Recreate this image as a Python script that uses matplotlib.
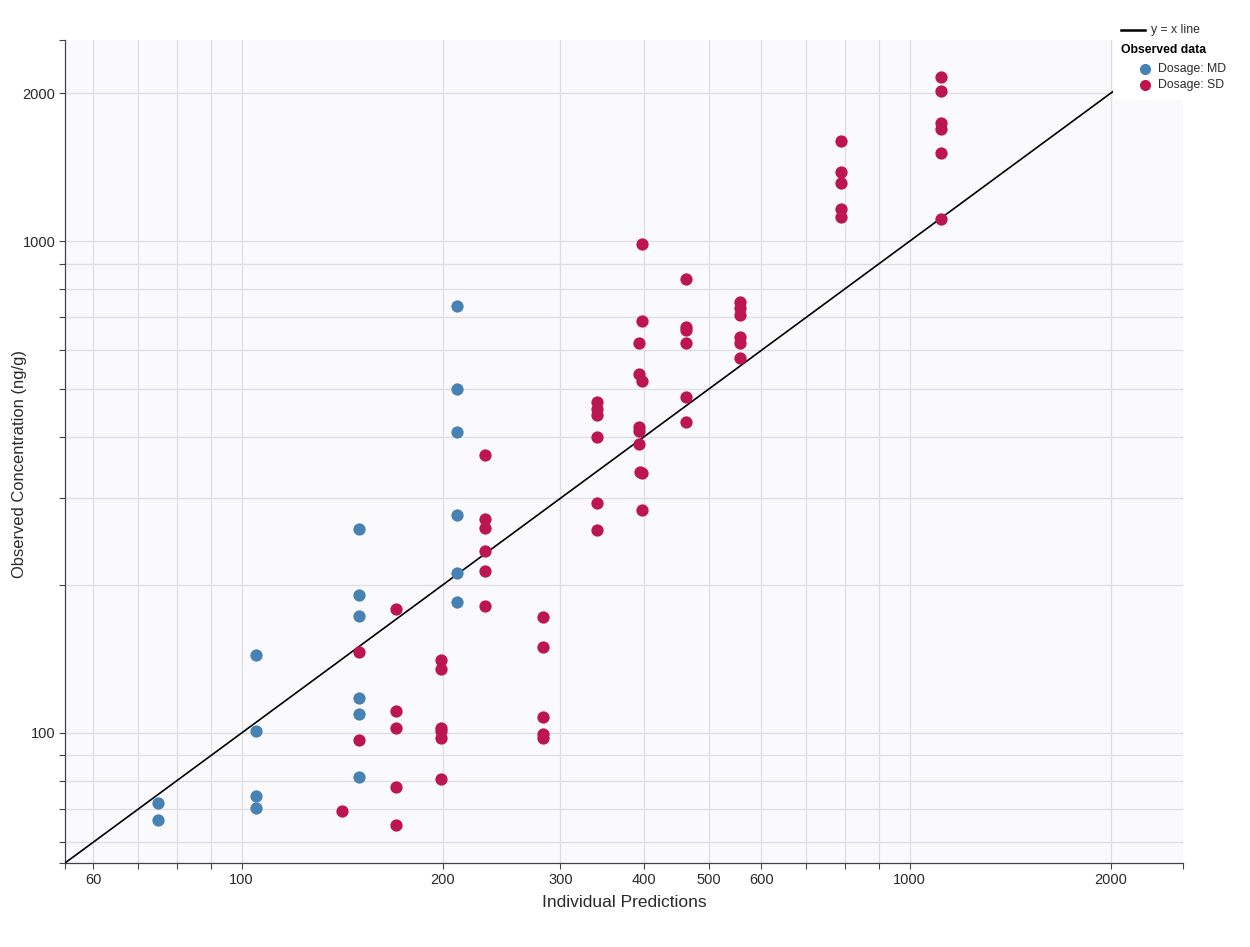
import matplotlib
matplotlib.use("Agg")
import matplotlib.pyplot as plt
import numpy as np
from matplotlib.ticker import FixedLocator, FixedFormatter
from matplotlib.lines import Line2D
from matplotlib.patches import Rectangle

plt.rcParams['font.family'] = ['Liberation Sans', 'DejaVu Sans']

# observed vs individual predictions, multiple dose (MD)
md_pred = [75, 75, 105, 105, 105, 105,
           150, 150, 150, 150, 150, 150,
           210, 210, 210, 210, 210, 210]
md_obs = [72.1, 66.5, 144.1, 100.9, 74.5, 70.4,
          260.2, 191.0, 172.9, 117.8, 109.1, 81.4,
          738.8, 501.0, 408.5, 277.0, 211.8, 184.6]

# single dose (SD)
sd_pred = [141.5,
           150, 150,
           170, 170, 170, 170, 170,
           198.6, 198.6, 198.6, 198.6, 198.6, 198.6,
           231, 231, 231, 231, 231, 231,
           283, 283, 283, 283, 283,
           340, 340, 340, 340, 340, 340,
           398, 398, 393, 393, 398, 393, 393, 393, 395, 398, 398,
           462, 462, 462, 462, 462, 462,
           556.6, 556.6, 556.6, 556.6, 556.6, 556.6,
           788, 788, 788, 788, 788,
           1114, 1114, 1114, 1114, 1114, 1114]
sd_obs = [69.4,
          145.9, 96.8,
          178.7, 110.7, 102.5, 77.8, 64.9,
          140.7, 134.9, 102.5, 100.9, 97.8, 80.5,
          367.3, 272.7, 261.0, 234.7, 213.2, 181.4,
          172.3, 149.6, 107.8, 99.4, 97.8,
          470.8, 456.2, 443.1, 400.2, 293.0, 258.9,
          987.4, 686.8, 621.4, 536.0, 519.4, 418.8, 411.6, 386.8, 338.8, 337.2, 283.5,
          836.0, 668, 660, 619.6, 481.3, 429.4,
          750.6, 729.9, 708.4, 639.0, 621.4, 577.5,
          1597, 1381, 1314, 1160, 1121,
          2154, 2018, 1735, 1692, 1514, 1107]

grid_ticks = [60, 70, 80, 90, 100, 200, 300, 400, 500, 600, 700, 800, 900, 1000, 2000]
x_labeled = [60, 100, 200, 300, 400, 500, 600, 1000, 2000]
y_labeled = [100, 1000, 2000]
lim = (54.4, 2565)

blue = '#4682b4'
red = '#bd1550'
axis_col = '#444444'
txt_col = '#2a2a2a'

fig = plt.figure(figsize=(12.5, 9.47), dpi=100)
ax = fig.add_axes([0.052, 0.0887, 0.8944, 0.8691])
ax.set_facecolor('#fafafd')
ax.set_xscale('log')
ax.set_yscale('log')
ax.set_xlim(*lim)
ax.set_ylim(*lim)

ax.plot(lim, lim, color='black', lw=1.2, zorder=3)
ax.scatter(md_pred, md_obs, s=78, color=blue, linewidths=0, zorder=4)
ax.scatter(sd_pred, sd_obs, s=78, color=red, linewidths=0, zorder=4)

for axis, labeled in ((ax.xaxis, x_labeled), (ax.yaxis, y_labeled)):
    axis.set_major_locator(FixedLocator(grid_ticks))
    axis.set_major_formatter(FixedFormatter([str(t) if t in labeled else '' for t in grid_ticks]))
    axis.set_minor_locator(FixedLocator(list(lim)))
    axis.set_minor_formatter(FixedFormatter(['', '']))

ax.tick_params(which='both', direction='out', length=4, width=0.8, color=axis_col,
               labelsize=10.5, labelcolor=txt_col, pad=3)
ax.grid(which='major', color='#dedee0', lw=0.9)
ax.set_axisbelow(True)

for s in ('top', 'right'):
    ax.spines[s].set_visible(False)
for s in ('left', 'bottom'):
    ax.spines[s].set_color(axis_col)
    ax.spines[s].set_linewidth(0.9)

ax.set_xlabel('Individual Predictions', fontsize=12.5, color=txt_col, labelpad=6)
ax.set_ylabel('Observed Concentration (ng/g)', fontsize=11.9, color=txt_col)
ax.yaxis.set_label_coords(-0.034, 0.485)

# legend, drawn in figure pixel space
W, H = 1250, 947
def fx(px):
    return px / W
def fy(py):
    return (H - py) / H

fig.patches.append(Rectangle((fx(1113), fy(100)), fx(1250) - fx(1113), fy(17) - fy(100),
                             transform=fig.transFigure, facecolor='white',
                             edgecolor='none', zorder=5))
fig.lines.append(Line2D([fx(1121), fx(1145)], [fy(30), fy(30)], transform=fig.transFigure,
                        color='black', lw=1.8, zorder=6))
fig.text(fx(1151), fy(30), 'y = x line', fontsize=8.8, color=txt_col, va='center', zorder=6)
fig.text(fx(1121), fy(50), 'Observed data', fontsize=8.8, color='black',
         fontweight='bold', va='center', zorder=6)
fig.lines.append(Line2D([fx(1145)], [fy(69)], transform=fig.transFigure, marker='o',
                        ms=8, color=blue, mec='none', zorder=6))
fig.text(fx(1158), fy(69), 'Dosage: MD', fontsize=8.8, color=txt_col, va='center', zorder=6)
fig.lines.append(Line2D([fx(1145)], [fy(85)], transform=fig.transFigure, marker='o',
                        ms=8, color=red, mec='none', zorder=6))
fig.text(fx(1158), fy(85), 'Dosage: SD', fontsize=8.8, color=txt_col, va='center', zorder=6)

fig.savefig('out.png', dpi=100, facecolor='white')
